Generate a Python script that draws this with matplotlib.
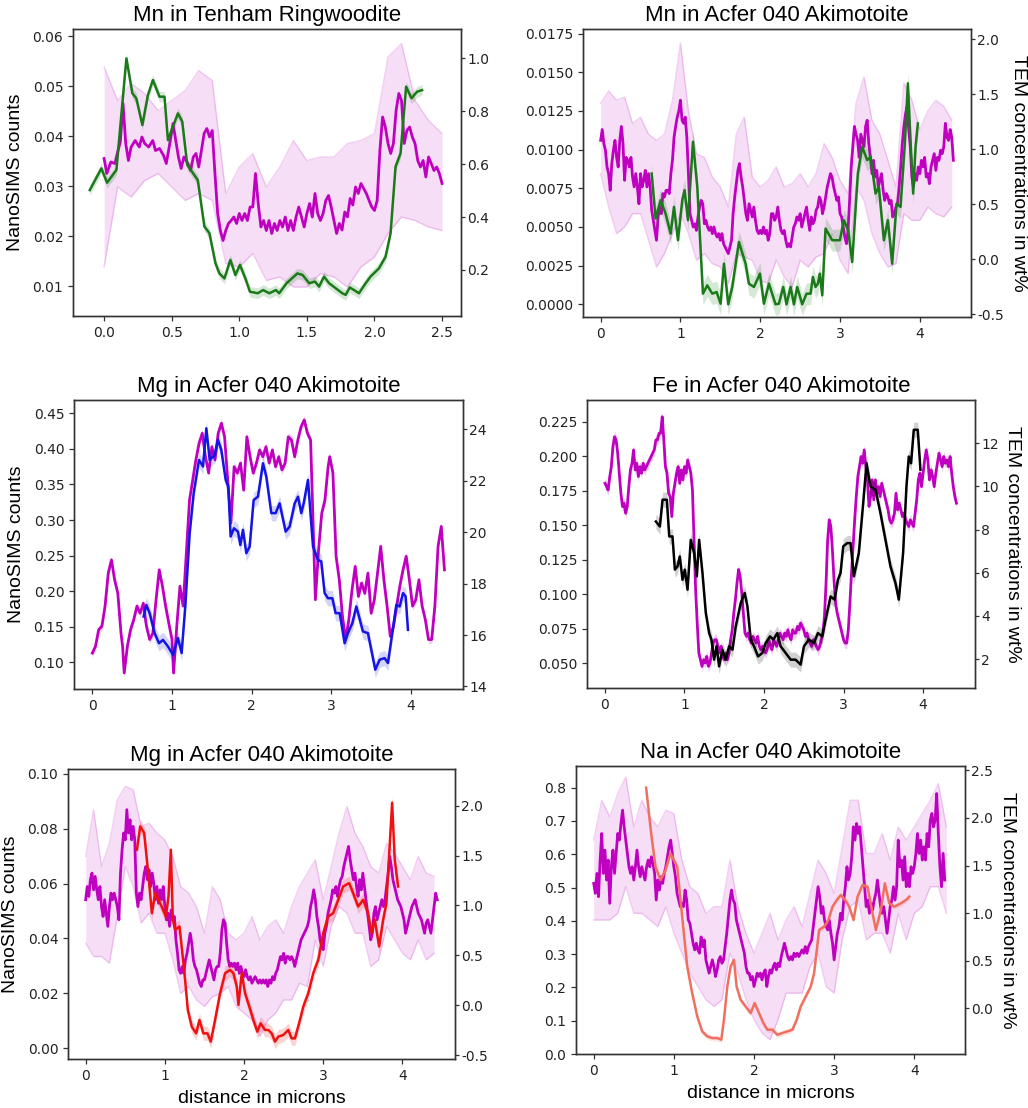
import numpy as np
import matplotlib
matplotlib.use("Agg")
import matplotlib.pyplot as plt
from matplotlib.ticker import FormatStrFormatter

W, H = 1028, 1108
MAG = '#c000c0'

# ---------------- Panel 1: Mn in Tenham Ringwoodite ----------------
P1_M_X = [0, 0.02, 0.05, 0.08, 0.1, 0.12, 0.14, 0.16, 0.18, 0.2, 0.23, 0.26, 0.28, 0.3, 0.33, 0.36,
          0.38, 0.41, 0.44, 0.46, 0.49, 0.51, 0.53, 0.55, 0.57, 0.59, 0.62, 0.64, 0.66, 0.68, 0.7] + \
         list(np.round(np.arange(0.72, 2.501, 0.02), 2))
P1_M_Y = [0.0355, 0.0325, 0.0348, 0.0345, 0.0368, 0.0388, 0.0465, 0.0385, 0.0351, 0.0378, 0.0391, 0.0378,
          0.0398, 0.0385, 0.0378, 0.0391, 0.0371, 0.0375, 0.0361, 0.0345, 0.0391, 0.0425, 0.0391, 0.0358,
          0.0335, 0.0358, 0.0345, 0.0331, 0.0358, 0.0365, 0.0338,
          0.0371, 0.0405, 0.0415, 0.0398, 0.0411, 0.0325, 0.0245, 0.0211, 0.0191, 0.0211,
          0.0225, 0.0231, 0.0238, 0.0225, 0.0245, 0.0231, 0.0245, 0.0231, 0.0258, 0.0258,
          0.0325, 0.0265, 0.0218, 0.0231, 0.0211, 0.0231, 0.0205, 0.0225, 0.0211, 0.0231,
          0.0218, 0.0238, 0.0211, 0.0231, 0.0211, 0.0238, 0.0258, 0.0238, 0.0218, 0.0245,
          0.0265, 0.0238, 0.0285, 0.0245, 0.0231, 0.0245, 0.0271, 0.0281, 0.0258, 0.0231,
          0.0205, 0.0225, 0.0212, 0.0248, 0.0238, 0.0275, 0.0262, 0.0298, 0.0285, 0.0305,
          0.0295, 0.0285, 0.0271, 0.0258, 0.0251, 0.0271, 0.0371, 0.0438, 0.0418, 0.0385,
          0.0365, 0.0385, 0.0451, 0.0485, 0.0471, 0.0385, 0.0411, 0.0418, 0.0398, 0.0385,
          0.0351, 0.0338, 0.0351, 0.0318, 0.0358, 0.0345, 0.0331, 0.0338, 0.0325, 0.0305]
P1_B_X = list(np.round(np.arange(0, 2.501, 0.1), 2))
P1_B_HI = [0.0538, 0.0471, 0.0505, 0.0485, 0.0451, 0.0471, 0.0491, 0.0531, 0.0511, 0.0285, 0.0338, 0.0365,
           0.0298, 0.0338, 0.0391, 0.0351, 0.0358, 0.0358, 0.0385, 0.0391, 0.0405, 0.0558, 0.0585, 0.0471,
           0.0431, 0.0405]
P1_B_LO = [0.0138, 0.0298, 0.0278, 0.0311, 0.0325, 0.0298, 0.0271, 0.0285, 0.0271, 0.0145, 0.0138, 0.0165,
           0.0111, 0.0118, 0.0098, 0.0098, 0.0125, 0.0118, 0.0098, 0.0138, 0.0158, 0.0205, 0.0238, 0.0231,
           0.0218, 0.0211]
P1_T_X = [-0.106, -0.02, 0.022, 0.091, 0.165, 0.209, 0.238, 0.283, 0.324, 0.361, 0.41, 0.447, 0.472, 0.546,
          0.578, 0.615, 0.693, 0.742, 0.779, 0.824, 0.853, 0.89, 0.934, 0.971, 1.005, 1.045, 1.079, 1.136,
          1.177, 1.222, 1.271, 1.295, 1.35, 1.43, 1.468, 1.517, 1.561, 1.59, 1.627, 1.664, 1.713, 1.762,
          1.787, 1.817, 1.849, 1.885, 1.935, 1.971, 2.033, 2.082, 2.119, 2.156, 2.193, 2.234, 2.274, 2.315, 2.352]
P1_T_Y = [0.502, 0.584, 0.53, 0.578, 1.0, 0.868, 0.849, 0.748, 0.861, 0.918, 0.855, 0.855, 0.691, 0.792,
          0.761, 0.597, 0.54, 0.364, 0.339, 0.225, 0.187, 0.168, 0.238, 0.181, 0.219, 0.168, 0.118, 0.112,
          0.124, 0.112, 0.124, 0.112, 0.15, 0.187, 0.181, 0.15, 0.156, 0.137, 0.175, 0.15, 0.131, 0.112,
          0.106, 0.134, 0.124, 0.112, 0.15, 0.175, 0.206, 0.25, 0.339, 0.591, 0.641, 0.893, 0.849, 0.874, 0.88]

# ---------------- Panel 2: Mn in Acfer 040 Akimotoite ----------------
P2_M_Y = [0.0106, 0.0113, 0.0104, 0.00996, 0.00888, 0.00845, 0.00737, 0.0091, 0.00996, 0.0106,
          0.0095, 0.00888, 0.0106, 0.0115, 0.0104, 0.00802, 0.0095, 0.00931, 0.00888, 0.0095,
          0.00823, 0.00759, 0.00845, 0.00759, 0.0065, 0.00845, 0.00759, 0.00802, 0.00866, 0.00759,
          0.00845, 0.00759, 0.00608, 0.00543, 0.00478, 0.00414, 0.00565, 0.00629, 0.00586, 0.00716,
          0.00694, 0.00737, 0.00737, 0.00716, 0.00845, 0.00931, 0.0108, 0.0115, 0.0121, 0.0125,
          0.0132, 0.0119, 0.0117, 0.0121, 0.0108, 0.00845, 0.00586, 0.00543, 0.005, 0.00521,
          0.00478, 0.00565, 0.00629, 0.00672, 0.0065, 0.00521, 0.00543, 0.005, 0.00478, 0.005,
          0.00457, 0.005, 0.00457, 0.00435, 0.00457, 0.00414, 0.00457, 0.00392, 0.00371, 0.00349,
          0.00328, 0.00371, 0.00414, 0.00586, 0.00694, 0.0078, 0.00866, 0.0091, 0.00823, 0.00759,
          0.00672, 0.00586, 0.00543, 0.0065, 0.00608, 0.00565, 0.00629, 0.00543, 0.00478, 0.00457,
          0.00478, 0.00457, 0.005, 0.00457, 0.00478, 0.00414, 0.00457, 0.00586, 0.00586, 0.00543,
          0.00565, 0.00629, 0.00543, 0.00478, 0.00457, 0.00478, 0.00414, 0.00371, 0.00392, 0.00371,
          0.00435, 0.005, 0.00521, 0.00565, 0.00543, 0.00586, 0.005, 0.00543, 0.00586, 0.00629,
          0.00543, 0.00478, 0.00565, 0.00521, 0.00543, 0.00608, 0.00629, 0.00694, 0.00672, 0.00586,
          0.00629, 0.00694, 0.00759, 0.00802, 0.00845, 0.00823, 0.00759, 0.00716, 0.00672, 0.00694,
          0.00586, 0.00565, 0.005, 0.00435, 0.00392, 0.00478, 0.00672, 0.00888, 0.0102, 0.0115,
          0.011, 0.0106, 0.0095, 0.011, 0.0106, 0.0102, 0.0115, 0.0119, 0.0104, 0.0095,
          0.00845, 0.00931, 0.00823, 0.00866, 0.00759, 0.00802, 0.00845, 0.00737, 0.00672, 0.00716,
          0.00694, 0.0065, 0.00672, 0.00565, 0.00586, 0.00629, 0.0065, 0.00759, 0.00888, 0.0104,
          0.0115, 0.0123, 0.0128, 0.0113, 0.0102, 0.00823, 0.00759, 0.00845, 0.00802, 0.00888,
          0.00845, 0.00931, 0.00888, 0.0095, 0.00823, 0.00845, 0.0078, 0.00888, 0.00931, 0.00974,
          0.00866, 0.0095, 0.00931, 0.00996, 0.00974, 0.0102, 0.0117, 0.0108, 0.0106, 0.0113,
          0.0108, 0.00931]
P2_M_X = list(np.round(0.02 * np.arange(len(P2_M_Y)), 2))
P2_B_X = list(np.round(np.arange(0, 4.401, 0.1), 2))
P2_B_HI = [0.013, 0.0138, 0.0132, 0.0134, 0.0117, 0.0121, 0.011, 0.0106, 0.011, 0.0132,
           0.0169, 0.0125, 0.00974, 0.0095, 0.00823, 0.00759, 0.00629, 0.011, 0.0121, 0.00823,
           0.00759, 0.00802, 0.00888, 0.00759, 0.0078, 0.00845, 0.00759, 0.00845, 0.0104, 0.0095,
           0.00802, 0.00716, 0.013, 0.0147, 0.0119, 0.011, 0.00931, 0.00759, 0.0143, 0.0132,
           0.0113, 0.0125, 0.0132, 0.0128, 0.0119]
P2_B_LO = [0.00845, 0.00629, 0.00457, 0.005, 0.00586, 0.00586, 0.00414, 0.00241, 0.00328, 0.00457,
           0.00586, 0.00457, 0.00285, 0.00328, 0.00263, 0.00241, 0.00134, 0.00328, 0.00306, 0.00285,
           0.00155, 0.00134, 0.00285, 0.00177, 0.00112, 0.00285, 0.00241, 0.00306, 0.00328, 0.00457,
           0.00285, 0.00198, 0.00759, 0.00672, 0.00457, 0.00328, 0.00241, 0.00263, 0.00586, 0.00543,
           0.00543, 0.00629, 0.00586, 0.00565, 0.00629]
P2_T_X = [0.639, 0.689, 0.752, 0.814, 0.877, 0.919, 0.969, 1.023, 1.052, 1.094, 1.157, 1.211, 1.282, 1.336,
          1.399, 1.453, 1.503, 1.545, 1.599, 1.649, 1.733, 1.816, 1.858, 1.921, 1.996, 2.046, 2.109, 2.192,
          2.234, 2.288, 2.33, 2.38, 2.422, 2.463, 2.526, 2.58, 2.63, 2.66, 2.693, 2.722, 2.747, 2.777, 2.818,
          2.902, 2.998, 3.048, 3.102, 3.152, 3.223, 3.278, 3.34, 3.382, 3.445, 3.486, 3.549, 3.599, 3.653,
          3.708, 3.758, 3.812, 3.85, 3.883, 3.916, 3.946, 3.975]
P2_T_Y = [0.78, 0.371, 0.538, 0.416, 0.234, 0.477, 0.174, 0.538, 0.629, 0.356, 1.069, 0.659, -0.312, -0.236,
          -0.312, -0.297, -0.403, -0.039, -0.409, -0.251, 0.158, -0.039, -0.221, -0.251, -0.13, -0.403, -0.221,
          -0.409, -0.403, -0.251, -0.409, -0.251, -0.409, -0.251, -0.409, -0.312, -0.312, -0.16, -0.251, -0.221,
          -0.13, -0.327, 0.28, 0.174, 0.174, 0.356, 0.265, -0.024, 0.78, 1.023, 0.902, 0.932, 0.598, 0.659,
          0.174, 0.356, -0.039, 0.507, 0.477, 1.053, 1.6, 1.084, 0.598, 1.023, 1.235]

# ---------------- Panel 3: Mg in Acfer 040 Akimotoite (blue) ----------------
P3_M_X = [0, 0.04, 0.08, 0.12, 0.16, 0.2, 0.24, 0.28, 0.32, 0.36, 0.38, 0.4, 0.44, 0.48, 0.52, 0.56, 0.6,
          0.64, 0.68, 0.72, 0.76, 0.8, 0.84, 0.88, 0.92, 0.96, 1.0, 1.02, 1.06, 1.1, 1.14, 1.18, 1.22, 1.26,
          1.3, 1.34, 1.38, 1.42, 1.46, 1.5, 1.54, 1.58, 1.62, 1.66, 1.7, 1.74, 1.78, 1.82, 1.86, 1.9, 1.94,
          1.98, 2.02, 2.06, 2.1, 2.14, 2.18, 2.22, 2.26, 2.3, 2.34, 2.38, 2.42, 2.46, 2.5, 2.54, 2.58, 2.62,
          2.66, 2.7, 2.74, 2.78, 2.8, 2.84, 2.88, 2.92, 2.96, 2.98, 3.02, 3.06, 3.1, 3.14, 3.18, 3.22, 3.26,
          3.3, 3.34, 3.38, 3.42, 3.46, 3.5, 3.54, 3.58, 3.62, 3.66, 3.7, 3.74, 3.78, 3.82, 3.86, 3.9, 3.94,
          3.98, 4.02, 4.06, 4.1, 4.14, 4.18, 4.22, 4.26, 4.3, 4.34, 4.38, 4.42]
P3_M_Y = [0.113, 0.1225, 0.146, 0.1505, 0.179, 0.2254, 0.244, 0.216, 0.197, 0.141,
          0.1225, 0.085, 0.1225, 0.146, 0.16, 0.179, 0.169, 0.183, 0.1505, 0.132,
          0.141, 0.188, 0.23, 0.207, 0.179, 0.155, 0.132, 0.085, 0.1505, 0.207,
          0.179, 0.2535, 0.328, 0.356, 0.3845, 0.408, 0.422, 0.389, 0.366, 0.403,
          0.3845, 0.422, 0.436, 0.417, 0.356, 0.2956, 0.375, 0.366, 0.38, 0.342,
          0.417, 0.389, 0.366, 0.38, 0.3985, 0.389, 0.403, 0.38, 0.3985, 0.375,
          0.389, 0.3705, 0.38, 0.417, 0.4125, 0.389, 0.4125, 0.431, 0.4406, 0.422,
          0.4125, 0.263, 0.188, 0.258, 0.3096, 0.328, 0.375, 0.389, 0.366, 0.249,
          0.216, 0.1646, 0.132, 0.16, 0.202, 0.2348, 0.1926, 0.2114, 0.197, 0.2254,
          0.169, 0.188, 0.2254, 0.263, 0.216, 0.179, 0.1365, 0.1505, 0.179, 0.207,
          0.23, 0.249, 0.216, 0.179, 0.188, 0.216, 0.179, 0.16, 0.132, 0.132,
          0.179, 0.263, 0.291, 0.23]
P3_T_X = [0.644, 0.678, 0.72, 0.782, 0.837, 0.887, 0.95, 1.013, 1.075, 1.121, 1.167, 1.222, 1.272, 1.339,
          1.389, 1.431, 1.473, 1.536, 1.577, 1.619, 1.674, 1.707, 1.736, 1.778, 1.828, 1.858, 1.891, 1.933,
          1.975, 2.025, 2.079, 2.142, 2.184, 2.247, 2.301, 2.351, 2.427, 2.477, 2.54, 2.582, 2.623, 2.653,
          2.707, 2.77, 2.833, 2.874, 2.916, 2.958, 3.013, 3.054, 3.105, 3.167, 3.209, 3.264, 3.314, 3.397,
          3.46, 3.502, 3.552, 3.607, 3.669, 3.711, 3.753, 3.816, 3.858, 3.9, 3.933, 3.962]
P3_T_Y = [16.72, 17.17, 16.85, 16.07, 15.68, 15.81, 15.55, 15.23, 15.88, 15.3, 17.11, 19.96, 21.51, 22.81,
          22.55, 24.04, 22.81, 23.0, 23.59, 23.2, 22.03, 21.77, 19.83, 20.15, 20.02, 19.5, 20.09, 19.18,
          19.44, 21.25, 21.38, 22.68, 22.16, 20.74, 20.74, 21.12, 20.02, 20.22, 21.12, 21.38, 20.74, 21.12,
          22.03, 19.44, 18.92, 18.86, 17.63, 17.43, 17.43, 16.85, 16.85, 15.68, 16.07, 16.46, 17.11, 16.14,
          16.07, 15.42, 14.65, 15.04, 15.1, 14.91, 15.81, 17.17, 17.11, 17.63, 17.5, 16.2]

# ---------------- Panel 4: Fe in Acfer 040 Akimotoite ----------------
P4_M_Y = [0.1803, 0.178, 0.1755, 0.185, 0.1924, 0.2069, 0.2141, 0.2117, 0.2021, 0.1876,
          0.1731, 0.1635, 0.1659, 0.1586, 0.1635, 0.1779, 0.19, 0.1948, 0.2045, 0.19,
          0.1948, 0.1852, 0.1924, 0.1876, 0.1948, 0.19, 0.1924, 0.1948, 0.1972, 0.1997,
          0.2021, 0.2045, 0.2117, 0.2117, 0.2166, 0.2166, 0.2286, 0.2117, 0.1924, 0.1876,
          0.1731, 0.1707, 0.1562, 0.1731, 0.1803, 0.1876, 0.1924, 0.1803, 0.19, 0.1828,
          0.1924, 0.1876, 0.1972, 0.1924, 0.1876, 0.1755, 0.1393, 0.1031, 0.079, 0.0573,
          0.0524, 0.0476, 0.0524, 0.05, 0.0548, 0.0476, 0.05, 0.0573, 0.0645, 0.0669,
          0.0669, 0.0621, 0.0573, 0.0621, 0.0548, 0.0524, 0.0573, 0.0524, 0.0573, 0.0669,
          0.0741, 0.0862, 0.0959, 0.1079, 0.1178, 0.1128, 0.1007, 0.0862, 0.0717, 0.0693,
          0.0717, 0.0669, 0.0645, 0.0693, 0.0669, 0.0645, 0.0693, 0.0621, 0.0597, 0.0621,
          0.0597, 0.0573, 0.0597, 0.0669, 0.0621, 0.0597, 0.0669, 0.0645, 0.0621, 0.0669,
          0.0717, 0.0693, 0.0669, 0.0717, 0.0693, 0.0741, 0.0693, 0.0669, 0.0741, 0.0717,
          0.0717, 0.0765, 0.0741, 0.079, 0.0765, 0.0741, 0.0693, 0.0717, 0.0669, 0.0645,
          0.0621, 0.0669, 0.0645, 0.0621, 0.0597, 0.0621, 0.0669, 0.0717, 0.0838, 0.1079,
          0.1393, 0.1538, 0.149, 0.1321, 0.1103, 0.0935, 0.0862, 0.0814, 0.0765, 0.0717,
          0.0669, 0.0645, 0.0645, 0.0741, 0.0935, 0.1152, 0.1345, 0.1538, 0.1707, 0.1852,
          0.1924, 0.1997, 0.1948, 0.2045, 0.1924, 0.1828, 0.1635, 0.1707, 0.1828, 0.1683,
          0.1828, 0.1731, 0.1779, 0.1707, 0.1803, 0.1755, 0.1707, 0.1659, 0.161, 0.1538,
          0.1514, 0.1538, 0.1586, 0.1731, 0.161, 0.1659, 0.161, 0.1562, 0.1586, 0.1538,
          0.1514, 0.149, 0.1538, 0.1514, 0.149, 0.1586, 0.1683, 0.1828, 0.1876, 0.1779,
          0.1876, 0.1972, 0.2045, 0.1972, 0.1828, 0.19, 0.1852, 0.1779, 0.1876, 0.1948,
          0.2021, 0.1972, 0.1924, 0.1997, 0.1948, 0.1972, 0.1924, 0.1997, 0.1876, 0.1779,
          0.1707, 0.1659]
P4_M_X = list(np.round(0.02 * np.arange(len(P4_M_Y)), 2))
P4_T_X = [0.64, 0.69, 0.724, 0.778, 0.808, 0.849, 0.879, 0.912, 0.941, 0.975, 1.004, 1.038, 1.079, 1.121,
          1.155, 1.184, 1.226, 1.268, 1.31, 1.339, 1.372, 1.402, 1.435, 1.477, 1.519, 1.561, 1.603, 1.644,
          1.707, 1.757, 1.791, 1.833, 1.874, 1.925, 1.979, 2.021, 2.075, 2.117, 2.167, 2.209, 2.272, 2.335,
          2.397, 2.46, 2.502, 2.565, 2.628, 2.678, 2.732, 2.774, 2.837, 2.887, 2.929, 2.962, 2.996, 3.046,
          3.088, 3.13, 3.192, 3.247, 3.289, 3.339, 3.402, 3.464, 3.527, 3.59, 3.653, 3.695, 3.749, 3.791,
          3.82, 3.849, 3.883, 3.933, 3.967]
P4_T_Y = [8.37, 8.14, 9.38, 9.38, 7.68, 7.68, 6.14, 6.29, 6.75, 5.67, 6.14, 5.21, 7.52, 6.91, 5.83, 7.52,
          5.98, 4.13, 3.2, 2.9, 1.97, 2.59, 1.66, 2.43, 1.97, 2.59, 2.43, 3.51, 4.59, 5.06, 4.44, 2.9, 2.59,
          2.12, 2.28, 2.74, 3.05, 2.9, 3.2, 2.59, 2.28, 1.97, 1.97, 1.74, 2.59, 2.9, 2.74, 3.2, 3.05, 3.82,
          4.9, 4.75, 5.67, 5.98, 7.22, 7.37, 7.37, 5.83, 6.91, 9.22, 11.07, 9.99, 9.84, 8.76, 7.52, 6.29,
          5.52, 4.75, 6.91, 9.99, 11.38, 11.07, 12.62, 12.62, 10.77]

# ---------------- Panel 5: Mg in Acfer 040 Akimotoite (red) ----------------
P5_M_Y = [0.0541, 0.0589, 0.0553, 0.0614, 0.0638, 0.0577, 0.0626, 0.0577, 0.0541, 0.0589,
          0.0516, 0.048, 0.0541, 0.0492, 0.0444, 0.0516, 0.0565, 0.0541, 0.0565, 0.0541,
          0.0516, 0.0468, 0.0638, 0.0723, 0.0784, 0.0759, 0.0869, 0.0784, 0.0832, 0.0759,
          0.0808, 0.0759, 0.0565, 0.0516, 0.0565, 0.0541, 0.0589, 0.0638, 0.0662, 0.0614,
          0.065, 0.0589, 0.0638, 0.0601, 0.0541, 0.0589, 0.0528, 0.0577, 0.0541, 0.0589,
          0.0516, 0.0468, 0.0492, 0.0444, 0.0504, 0.0468, 0.048, 0.0395, 0.0346, 0.0286,
          0.0273, 0.0298, 0.0273, 0.0322, 0.0346, 0.0383, 0.0419, 0.0383, 0.0322, 0.0298,
          0.0286, 0.0261, 0.0237, 0.0225, 0.0249, 0.0249, 0.0273, 0.0298, 0.0322, 0.0298,
          0.0273, 0.0249, 0.0286, 0.0298, 0.0298, 0.0346, 0.0431, 0.0468, 0.0456, 0.0383,
          0.0322, 0.0298, 0.031, 0.0298, 0.031, 0.0286, 0.031, 0.0273, 0.0298, 0.0273,
          0.0261, 0.0286, 0.0261, 0.0249, 0.0261, 0.0237, 0.0249, 0.0261, 0.0249, 0.0237,
          0.0249, 0.0237, 0.0249, 0.0237, 0.0249, 0.0225, 0.0249, 0.0237, 0.0261, 0.0249,
          0.0273, 0.0286, 0.031, 0.0334, 0.0322, 0.0346, 0.031, 0.0334, 0.0334, 0.0322,
          0.0334, 0.0322, 0.0298, 0.0322, 0.0346, 0.0371, 0.0395, 0.0407, 0.0419, 0.0431,
          0.0444, 0.0468, 0.0516, 0.0541, 0.0577, 0.0541, 0.048, 0.0444, 0.0395, 0.0371,
          0.0359, 0.0419, 0.0444, 0.0492, 0.0516, 0.0541, 0.0577, 0.0565, 0.0589, 0.0553,
          0.0589, 0.0614, 0.0626, 0.0662, 0.0687, 0.0711, 0.0735, 0.0687, 0.065, 0.0614,
          0.0638, 0.0589, 0.0553, 0.0614, 0.0577, 0.0638, 0.0589, 0.0541, 0.0492, 0.0444,
          0.0395, 0.0419, 0.0492, 0.0516, 0.0468, 0.0492, 0.0516, 0.0541, 0.0516, 0.0541,
          0.0589, 0.0638, 0.0699, 0.0662, 0.0614, 0.0589, 0.0565, 0.0541, 0.0528, 0.0516,
          0.0492, 0.0468, 0.0419, 0.0444, 0.0468, 0.0492, 0.0516, 0.0528, 0.0541, 0.0516,
          0.0492, 0.048, 0.0468, 0.0444, 0.0419, 0.0456, 0.0468, 0.0444, 0.0419, 0.0468,
          0.0516, 0.0565, 0.0541]
P5_M_X = list(np.round(0.02 * np.arange(len(P5_M_Y)), 2))
P5_B_X = list(np.round(np.arange(0, 4.401, 0.1), 2))
P5_B_HI = [0.0699, 0.0869, 0.0662, 0.0747, 0.0905, 0.0954, 0.0942, 0.0808, 0.082, 0.0784,
           0.0759, 0.0699, 0.0589, 0.0565, 0.0516, 0.0419, 0.0589, 0.0541, 0.0419, 0.0395,
           0.0419, 0.048, 0.0395, 0.0444, 0.0468, 0.0419, 0.0516, 0.0589, 0.0638, 0.0687,
           0.0541, 0.0662, 0.0784, 0.0881, 0.0784, 0.0735, 0.0662, 0.0638, 0.0747, 0.0711,
           0.0662, 0.0614, 0.0699, 0.0638, 0.0626]
P5_B_LO = [0.0383, 0.0334, 0.0334, 0.031, 0.048, 0.0662, 0.0589, 0.0456, 0.0492, 0.0419,
           0.0419, 0.0322, 0.02, 0.0225, 0.0176, 0.0152, 0.0188, 0.02, 0.0225, 0.0152,
           0.0128, 0.0103, 0.0043, 0.0103, 0.0128, 0.0176, 0.0176, 0.0237, 0.0225, 0.0395,
           0.0298, 0.0444, 0.0516, 0.0492, 0.0419, 0.0419, 0.0298, 0.0322, 0.0444, 0.0395,
           0.0346, 0.0322, 0.0395, 0.0322, 0.0346]
P5_T_X = [0.647, 0.689, 0.739, 0.794, 0.836, 0.878, 0.941, 1.013, 1.046, 1.076, 1.101, 1.13, 1.185, 1.248,
          1.29, 1.34, 1.395, 1.437, 1.487, 1.538, 1.58, 1.634, 1.697, 1.761, 1.824, 1.866, 1.908, 1.929,
          1.971, 2.013, 2.067, 2.118, 2.168, 2.21, 2.265, 2.307, 2.349, 2.391, 2.433, 2.496, 2.559, 2.601,
          2.643, 2.706, 2.748, 2.811, 2.874, 2.937, 3.0, 3.063, 3.126, 3.189, 3.252, 3.328, 3.378, 3.441,
          3.504, 3.567, 3.609, 3.651, 3.706, 3.756, 3.798, 3.87, 3.903, 3.945]
P5_T_Y = [1.558, 1.793, 1.726, 1.29, 0.922, 1.123, 1.023, 0.889, 1.09, 1.558, 0.855, 0.755, 0.789, 0.32,
          -0.048, -0.216, -0.283, -0.149, -0.283, -0.283, -0.366, -0.149, 0.119, 0.32, 0.353, 0.32, 0.186,
          0.002, 0.32, 0.119, -0.015, -0.149, -0.266, -0.182, -0.249, -0.249, -0.283, -0.366, -0.316, -0.299,
          -0.249, -0.333, -0.333, -0.149, -0.015, 0.119, 0.32, 0.454, 0.722, 0.889, 0.922, 1.056, 1.19,
          1.224, 1.123, 0.989, 1.056, 0.922, 0.722, 0.855, 0.588, 0.855, 1.023, 2.03, 1.458, 1.19]

# ---------------- Panel 6: Na in Acfer 040 Akimotoite ----------------
P6_M_Y = [0.5125, 0.4825, 0.5425, 0.4725, 0.5824, 0.6623, 0.5425, 0.6124, 0.5225, 0.5824,
          0.4525, 0.5624, 0.6124, 0.5425, 0.6024, 0.6623, 0.6424, 0.6923, 0.7323, 0.6823,
          0.6424, 0.6024, 0.5624, 0.5425, 0.5624, 0.5225, 0.5624, 0.6124, 0.5624, 0.5325,
          0.5624, 0.5425, 0.5225, 0.5624, 0.5824, 0.5624, 0.5924, 0.5724, 0.5425, 0.4625,
          0.5225, 0.4925, 0.5325, 0.5125, 0.5425, 0.5624, 0.5924, 0.6224, 0.6424, 0.6024,
          0.5624, 0.5325, 0.4825, 0.4625, 0.4426, 0.4525, 0.4426, 0.4925, 0.4625, 0.4026,
          0.3926, 0.3626, 0.3327, 0.3127, 0.3327, 0.3127, 0.3027, 0.3516, 0.3227, 0.3427,
          0.2827, 0.2627, 0.2428, 0.2627, 0.2827, 0.2627, 0.2328, 0.2527, 0.2827, 0.2927,
          0.2727, 0.2827, 0.3227, 0.3626, 0.4126, 0.4625, 0.4925, 0.4625, 0.4525, 0.4026,
          0.3826, 0.3626, 0.3427, 0.3227, 0.3027, 0.2627, 0.2428, 0.2428, 0.2228, 0.2328,
          0.2028, 0.2228, 0.2428, 0.2328, 0.2428, 0.2228, 0.2428, 0.2527, 0.2028, 0.2328,
          0.2527, 0.2428, 0.2627, 0.2727, 0.2527, 0.2727, 0.2627, 0.2927, 0.3127, 0.3327,
          0.3127, 0.2927, 0.2827, 0.2927, 0.2827, 0.3027, 0.2927, 0.3027, 0.2927, 0.3027,
          0.3127, 0.3027, 0.3227, 0.3027, 0.3227, 0.3327, 0.3427, 0.3826, 0.4226, 0.4625,
          0.5025, 0.4725, 0.4226, 0.4426, 0.4026, 0.3826, 0.3726, 0.4026, 0.3626, 0.3327,
          0.2827, 0.3227, 0.3626, 0.3826, 0.4226, 0.4026, 0.4625, 0.5025, 0.5624, 0.5225,
          0.5425, 0.5924, 0.6823, 0.6424, 0.6923, 0.6623, 0.6823, 0.6224, 0.5624, 0.5025,
          0.4426, 0.4625, 0.4226, 0.4525, 0.4326, 0.4625, 0.4825, 0.5225, 0.4825, 0.4426,
          0.4226, 0.4426, 0.4026, 0.3626, 0.4026, 0.4426, 0.4625, 0.5025, 0.4625, 0.5025,
          0.6424, 0.5624, 0.5824, 0.5225, 0.5924, 0.5025, 0.5425, 0.5025, 0.5624, 0.5425,
          0.5624, 0.6024, 0.6623, 0.6024, 0.6424, 0.5824, 0.6224, 0.5824, 0.6623, 0.6224,
          0.7023, 0.7223, 0.6823, 0.7023, 0.7822, 0.6623, 0.5624, 0.5025, 0.6024, 0.5225]
P6_M_X = list(np.round(0.02 * np.arange(len(P6_M_Y)), 2))
P6_B_X = list(np.round(np.arange(0, 4.401, 0.1), 2))
P6_B_HI = [0.6424, 0.7622, 0.7123, 0.7822, 0.8322, 0.6823, 0.7622, 0.7123, 0.6823, 0.7323,
           0.7223, 0.5824, 0.5025, 0.4825, 0.4226, 0.4426, 0.4426, 0.5824, 0.4426, 0.3626,
           0.3027, 0.3626, 0.4226, 0.3427, 0.4026, 0.4426, 0.3826, 0.4825, 0.5824, 0.5425,
           0.4825, 0.6224, 0.7622, 0.7622, 0.6024, 0.6024, 0.6623, 0.5824, 0.6823, 0.6424,
           0.6823, 0.7223, 0.7622, 0.8122, 0.6823]
P6_B_LO = [0.4026, 0.4026, 0.4026, 0.4226, 0.5025, 0.4226, 0.4226, 0.4026, 0.3826, 0.4426,
           0.3626, 0.3027, 0.2428, 0.2028, 0.1628, 0.1429, 0.1628, 0.3027, 0.2428, 0.1628,
           0.1029, 0.0629, 0.043, 0.1029, 0.1828, 0.1828, 0.1828, 0.2627, 0.3027, 0.2028,
           0.1828, 0.3427, 0.4426, 0.4625, 0.3427, 0.3626, 0.3626, 0.3027, 0.4226, 0.3427,
           0.4226, 0.4426, 0.5025, 0.5025, 0.4226]
P6_T_X = [0.654, 0.717, 0.771, 0.833, 0.896, 0.958, 1.042, 1.083, 1.125, 1.167, 1.229, 1.292, 1.354, 1.417,
          1.479, 1.542, 1.592, 1.625, 1.667, 1.708, 1.75, 1.783, 1.833, 1.896, 1.958, 2.008, 2.063, 2.117,
          2.167, 2.229, 2.292, 2.354, 2.417, 2.479, 2.533, 2.583, 2.646, 2.708, 2.75, 2.813, 2.875, 2.929,
          2.979, 3.033, 3.083, 3.138, 3.188, 3.242, 3.292, 3.354, 3.417, 3.479, 3.521, 3.583, 3.633, 3.688,
          3.75, 3.833, 3.896, 3.938]
P6_T_Y = [2.318, 1.837, 1.487, 1.348, 1.453, 1.627, 1.487, 1.138, 0.789, 0.44, 0.161, -0.084, -0.241, -0.293,
          -0.311, -0.311, -0.328, -0.119, 0.23, 0.44, 0.51, 0.23, 0.091, 0.021, -0.049, 0.056, -0.049, -0.154,
          -0.223, -0.223, -0.276, -0.258, -0.241, -0.223, -0.119, 0.021, 0.126, 0.23, 0.37, 0.824, 0.859,
          0.929, 1.068, 1.138, 1.191, 1.138, 1.068, 0.929, 1.173, 1.295, 1.278, 1.0, 0.824, 1.033, 1.313,
          1.103, 1.068, 1.103, 1.138, 1.173]

TITLES = ["Mn in Tenham Ringwoodite", "Mn in Acfer 040 Akimotoite", "Mg in Acfer 040 Akimotoite",
          "Fe in Acfer 040 Akimotoite", "Mg in Acfer 040 Akimotoite", "Na in Acfer 040 Akimotoite"]
YLABEL_L = "NanoSIMS counts"
YLABEL_R = "TEM concentrations in wt%"
XLABEL = "distance in microns"

# ---------------- drawing ----------------
plt.rcParams['font.family'] = ['DejaVu Sans']
TXT_FONT = ['Liberation Sans', 'DejaVu Sans']
fig = plt.figure(figsize=(W / 100, H / 100), dpi=100)
fig.patch.set_facecolor('white')


def style(ax, pad=3.5, length=3.5):
    for s in ax.spines.values():
        s.set_color('#333333')
        s.set_linewidth(1.0)
    ax.tick_params(labelsize=10, colors='#333333', labelcolor='#222222', length=length, width=0.9, pad=pad)


def panel(box, title, m, band, t, tcolor, terr, xlim, ylL, ylR, tkL, fmtL, tkR, fmtR, xt, fmtX,
          left_lab=False, right_lab=False, xlab=False):
    l, tp, r, b = box
    ax = fig.add_axes([l / W, 1 - b / H, (r - l) / W, (b - tp) / H])
    mx, my = np.array(m[0], float), np.array(m[1], float)
    n = min(len(mx), len(my))
    mx, my = mx[:n], my[:n]
    if isinstance(band, tuple):
        bx, blo, bhi = (np.array(v, float) for v in band)
        k = min(len(bx), len(blo), len(bhi))
        ax.fill_between(bx[:k], blo[:k], bhi[:k], color=MAG, alpha=0.13, lw=0)
        ax.plot(bx[:k], blo[:k], color=MAG, alpha=0.18, lw=1)
        ax.plot(bx[:k], bhi[:k], color=MAG, alpha=0.18, lw=1)
    else:
        ax.fill_between(mx, my - band, my + band, color=MAG, alpha=0.2, lw=0)
    ax.plot(mx, my, color=MAG, lw=2.0)
    ax.set_xlim(*xlim)
    ax.set_ylim(*ylL)
    ax.set_yticks(tkL)
    ax.yaxis.set_major_formatter(FormatStrFormatter(fmtL))
    ax.set_xticks(xt)
    ax.xaxis.set_major_formatter(FormatStrFormatter(fmtX))
    style(ax)
    ax.set_title(title, fontsize=16, family=TXT_FONT, pad=6)
    if left_lab:
        ax.set_ylabel(YLABEL_L, fontsize=14, family=TXT_FONT, labelpad=6)
    if xlab:
        ax.set_xlabel(XLABEL, fontsize=14, family=TXT_FONT, labelpad=5)

    ax2 = ax.twinx()
    tx, ty = np.array(t[0], float), np.array(t[1], float)
    k = min(len(tx), len(ty))
    tx, ty = tx[:k], ty[:k]
    ax2.fill_between(tx, ty - terr, ty + terr, color=tcolor, alpha=0.18, lw=0)
    ax2.plot(tx, ty, color=tcolor, lw=1.8)
    ax2.set_ylim(*ylR)
    ax2.set_yticks(tkR)
    ax2.yaxis.set_major_formatter(FormatStrFormatter(fmtR))
    style(ax2, pad=1.5, length=3.0)
    if right_lab:
        ax2.set_ylabel(YLABEL_R, fontsize=14, family=TXT_FONT, rotation=270, va='bottom', labelpad=4)
    return ax, ax2


panel((73, 29, 461, 316), TITLES[0], (P1_M_X, P1_M_Y), (P1_B_X, P1_B_LO, P1_B_HI),
      (P1_T_X, P1_T_Y), '#1a7a1a', 0.02, (-0.23, 2.64), (0.004, 0.0614), (0.026, 1.111),
      [0.01, 0.02, 0.03, 0.04, 0.05, 0.06], '%.2f', [0.2, 0.4, 0.6, 0.8, 1.0], '%.1f',
      [0, 0.5, 1.0, 1.5, 2.0, 2.5], '%.1f', left_lab=True)

panel((583, 29, 971, 317), TITLES[1], (P2_M_X, P2_M_Y), (P2_B_X, P2_B_LO, P2_B_HI),
      (P2_T_X, P2_T_Y), '#1a7a1a', 0.1, (-0.221, 4.641), (-0.00082, 0.0178), (-0.524, 2.094),
      [0, 0.0025, 0.005, 0.0075, 0.01, 0.0125, 0.015, 0.0175], '%.4f',
      [-0.5, 0.0, 0.5, 1.0, 1.5, 2.0], '%.1f', [0, 1, 2, 3, 4], '%d', right_lab=True)

panel((74, 400, 463, 689), TITLES[2], (P3_M_X, P3_M_Y), 0.006,
      (P3_T_X, P3_T_Y), '#1414e6', 0.3, (-0.23, 4.653), (0.0625, 0.4687), (13.9, 25.14),
      [0.10, 0.15, 0.20, 0.25, 0.30, 0.35, 0.40, 0.45], '%.2f', [14, 16, 18, 20, 22, 24], '%d',
      [0, 1, 2, 3, 4], '%d', left_lab=True)

panel((587, 400, 975, 688), TITLES[3], (P4_M_X, P4_M_Y), 0.004,
      (P4_T_X, P4_T_Y), '#000000', 0.35, (-0.226, 4.653), (0.0319, 0.2407), (0.657, 14.0),
      [0.05, 0.075, 0.1, 0.125, 0.15, 0.175, 0.2, 0.225], '%.3f', [2, 4, 6, 8, 10, 12], '%d',
      [0, 1, 2, 3, 4], '%d', right_lab=True)

panel((68, 769, 455, 1059), TITLES[4], (P5_M_X, P5_M_Y), (P5_B_X, P5_B_LO, P5_B_HI),
      (P5_T_X, P5_T_Y), '#f01010', 0.07, (-0.223, 4.664), (-0.0039, 0.1017), (-0.54, 2.368),
      [0, 0.02, 0.04, 0.06, 0.08, 0.10], '%.2f', [-0.5, 0.0, 0.5, 1.0, 1.5, 2.0], '%.1f',
      [0, 1, 2, 3, 4], '%d', left_lab=True, xlab=True)

panel((576, 766, 965, 1054), TITLES[5], (P6_M_X, P6_M_Y), (P6_B_X, P6_B_LO, P6_B_HI),
      (P6_T_X, P6_T_Y), '#f07060', 0.03, (-0.221, 4.633), (0.0, 0.865), (-0.478, 2.545),
      [0, 0.1, 0.2, 0.3, 0.4, 0.5, 0.6, 0.7, 0.8], '%.1f', [0.0, 0.5, 1.0, 1.5, 2.0, 2.5], '%.1f',
      [0, 1, 2, 3, 4], '%d', right_lab=True, xlab=True)

fig.savefig("out.png", dpi=100, facecolor='white')
